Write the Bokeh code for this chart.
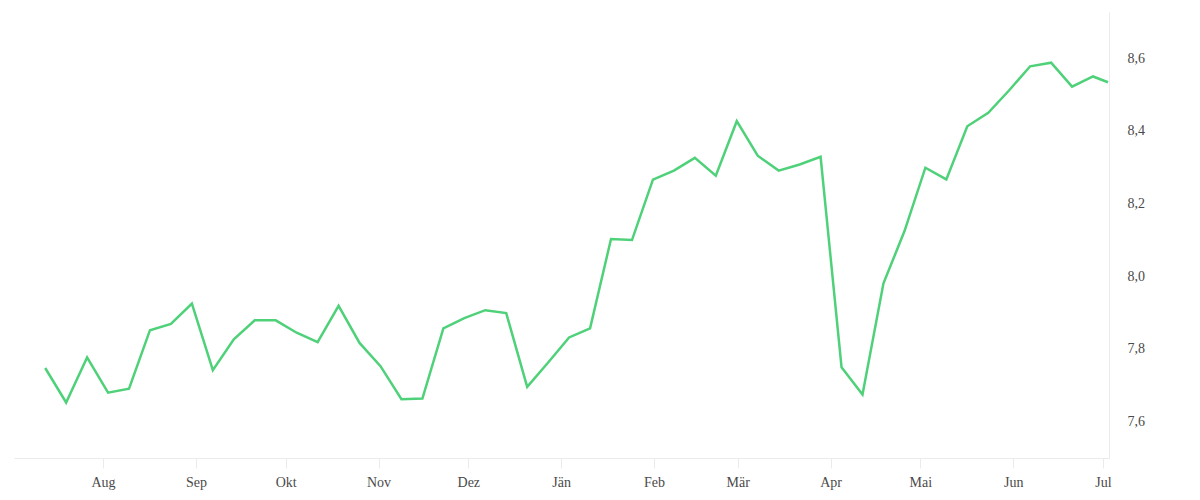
import pandas as pd
from bokeh.plotting import figure
from bokeh.models import Range1d, FixedTicker, LinearAxis, DatetimeAxis, ColumnDataSource
from bokeh.embed import file_html
from bokeh.resources import INLINE

dates = [
    "2022-07-12", "2022-07-19", "2022-07-26", "2022-08-02", "2022-08-09", "2022-08-16",
    "2022-08-23", "2022-08-30", "2022-09-06", "2022-09-13", "2022-09-20", "2022-09-27",
    "2022-10-04", "2022-10-11", "2022-10-18", "2022-10-25", "2022-11-01", "2022-11-08",
    "2022-11-15", "2022-11-22", "2022-11-29", "2022-12-06", "2022-12-13", "2022-12-20",
    "2022-12-27", "2023-01-03", "2023-01-10", "2023-01-17", "2023-01-24", "2023-01-31",
    "2023-02-07", "2023-02-14", "2023-02-21", "2023-02-28", "2023-03-07", "2023-03-14",
    "2023-03-21", "2023-03-28", "2023-04-04", "2023-04-11", "2023-04-18", "2023-04-25",
    "2023-05-02", "2023-05-09", "2023-05-16", "2023-05-23", "2023-05-30", "2023-06-06",
    "2023-06-13", "2023-06-20", "2023-06-27", "2023-07-02",
]
values = [
    7.746, 7.651, 7.775, 7.678, 7.689, 7.850, 7.867, 7.923, 7.740, 7.825,
    7.877, 7.877, 7.843, 7.817, 7.917, 7.815, 7.751, 7.660, 7.662, 7.855,
    7.883, 7.905, 7.897, 7.694, 7.761, 7.830, 7.855, 8.101, 8.098, 8.264,
    8.289, 8.324, 8.275, 8.425, 8.330, 8.289, 8.306, 8.327, 7.748, 7.673,
    7.979, 8.122, 8.297, 8.265, 8.411, 8.448, 8.510, 8.576, 8.586, 8.520,
    8.548, 8.532,
]
month_starts = ["2022-08-01", "2022-09-01", "2022-10-01", "2022-11-01", "2022-12-01",
                "2023-01-01", "2023-02-01", "2023-03-01", "2023-04-01", "2023-05-01",
                "2023-06-01", "2023-07-01"]
month_labels = ["Aug", "Sep", "Okt", "Nov", "Dez", "Jän", "Feb", "Mär", "Apr", "Mai", "Jun", "Jul"]
y_ticks = [7.6, 7.8, 8.0, 8.2, 8.4, 8.6]
y_labels = ["7,6", "7,8", "8,0", "8,2", "8,4", "8,6"]


def ms(s):
    return pd.Timestamp(s).value / 1e6


xs = [ms(d) + 12 * 3600 * 1000 for d in dates]
src = ColumnDataSource(dict(x=xs, y=values))

FONT = "Liberation Serif"
GRID = "#ebebeb"

p = figure(
    frame_width=1095, frame_height=446,
    x_range=Range1d(ms("2022-07-02 06:00"), ms("2023-07-03 00:00")),
    y_range=Range1d(7.497, 8.724),
    output_backend="svg", toolbar_location=None,
    x_axis_type=None, y_axis_type=None,
    min_border_left=14, min_border_top=12, min_border_right=10, min_border_bottom=5,
    outline_line_color=None,
)

xt = [ms(d) for d in month_starts]
xaxis = DatetimeAxis(ticker=FixedTicker(ticks=xt))
xaxis.major_label_overrides = {t: l for t, l in zip(xt, month_labels)}
xaxis.axis_line_color = GRID
xaxis.major_tick_line_color = GRID
xaxis.major_tick_out = 10
xaxis.major_tick_in = 0
xaxis.minor_tick_line_color = None
xaxis.major_label_text_font = FONT
xaxis.major_label_text_font_size = "14px"
xaxis.major_label_text_color = "#4a4a4a"
xaxis.major_label_standoff = 6
p.add_layout(xaxis, "below")

yaxis = LinearAxis(ticker=FixedTicker(ticks=y_ticks))
yaxis.major_label_overrides = {t: l for t, l in zip(y_ticks, y_labels)}
yaxis.axis_line_color = GRID
yaxis.major_tick_line_color = None
yaxis.major_tick_out = 0
yaxis.major_tick_in = 0
yaxis.minor_tick_line_color = None
yaxis.major_label_text_font = FONT
yaxis.major_label_text_font_size = "14px"
yaxis.major_label_text_color = "#4a4a4a"
yaxis.major_label_standoff = 18
p.add_layout(yaxis, "right")

p.xgrid.ticker = xaxis.ticker
p.ygrid.ticker = yaxis.ticker
p.xgrid.grid_line_color = GRID
p.ygrid.grid_line_color = GRID

p.line("x", "y", source=src, line_color="#4fd17a", line_width=2.5, line_join="miter")

open("out.html", "w").write(file_html(p, INLINE))
